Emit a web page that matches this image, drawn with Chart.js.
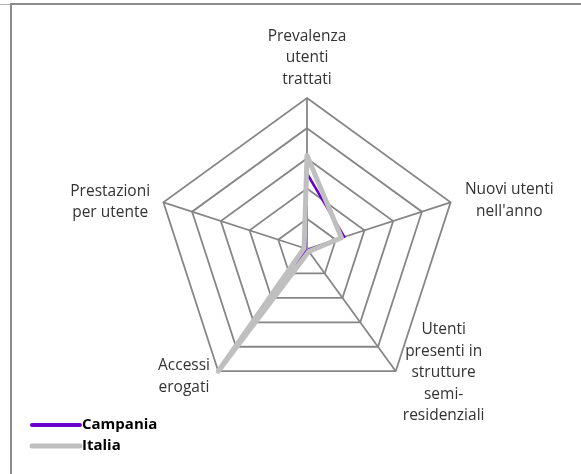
<!DOCTYPE html>
<html>
<head>
<meta charset="utf-8">
<script src="https://cdn.jsdelivr.net/npm/chart.js@4/dist/chart.umd.min.js"></script>
<style>
  body { margin: 0; background: #fff; }
  #wrap { position: relative; width: 581px; height: 474px; overflow: hidden; }
  #frame { position: absolute; left: 10px; top: 3px; width: 600px; height: 500px;
           border-left: 2px solid #8c8c8c; border-top: 2px solid #8c8c8c; }
  #stub { position: absolute; left: 0; top: 4px; width: 10px; height: 1px; background: #b0b0b0; }
  canvas { position: absolute; left: 0; top: 0; }
</style>
</head>
<body>
<div id="wrap">
  <div id="stub"></div>
  <div id="frame"></div>
  <canvas id="myChart" width="581" height="474"></canvas>
</div>
<script>
// axes, clockwise from the top
const categories = [
  ['Prevalenza', 'utenti', 'trattati'],
  ['Nuovi utenti', "nell'anno"],
  ['Utenti', 'presenti in', 'strutture', 'semi-', 'residenziali'],
  ['Accessi', 'erogati'],
  ['Prestazioni', 'per utente']
];
const campania = [2.5, 1.3, 0.05, 0.65, 0.05];
const italia = [3.1, 1.2, 0.1, 5.0, 0.1];
const seriesNames = ['Campania', 'Italia'];
const ringTicks = [0, 1, 2, 3, 4, 5];

// axis labels, centred blocks next to each corner
const cornerLabels = {
  id: 'cornerLabels',
  afterDraw(chart) {
    const ctx = chart.ctx;
    const scale = chart.scales.r;
    const lineH = 21.5;
    const pads = [10, 15, 12, 14, 14];
    const nudgeY = [2, 3, -8, -6, 4];
    ctx.save();
    ctx.font = '15.5px "Open Sans"';
    ctx.fillStyle = '#333333';
    ctx.textAlign = 'center';
    ctx.textBaseline = 'middle';
    chart.data.labels.forEach((lines, i) => {
      const p = scale.getPointPosition(i, scale.drawingArea + pads[i]);
      const w = Math.max(...lines.map(l => ctx.measureText(l).width));
      const h = lines.length * lineH;
      let cx = p.x;
      let top = p.y - h / 2 + nudgeY[i];
      if (i === 0) {
        top = p.y - h + nudgeY[i];
      } else if (p.x > scale.xCenter) {
        cx = p.x + w / 2;
      } else {
        cx = p.x - w / 2;
      }
      lines.forEach((l, k) => ctx.fillText(l, cx, top + lineH * (k + 0.5)));
    });
    ctx.restore();

    // legend, bottom left
    ctx.save();
    ctx.font = 'bold 15px "Open Sans"';
    ctx.textAlign = 'left';
    ctx.textBaseline = 'middle';
    ctx.lineCap = 'round';
    chart.data.datasets.slice().sort((a, b) => b.order - a.order).forEach((ds, k) => {
      const y = 425 + k * 21;
      ctx.strokeStyle = ds.borderColor;
      ctx.lineWidth = ds.legendWidth;
      ctx.beginPath();
      ctx.moveTo(32, y);
      ctx.lineTo(80, y);
      ctx.stroke();
      ctx.fillStyle = '#000';
      ctx.fillText(ds.label, 82, y);
    });
    ctx.restore();
  }
};

const ctx = document.getElementById('myChart').getContext('2d');
new Chart(ctx, {
  type: 'radar',
  data: {
    labels: categories,
    datasets: [{
      label: seriesNames[0],
      data: campania,
      borderColor: '#6600cc',
      borderWidth: 2.5,
      legendWidth: 4,
      fill: false,
      pointRadius: 0,
      borderJoinStyle: 'round',
      order: 1
    }, {
      label: seriesNames[1],
      data: italia,
      borderColor: '#bfbfbf',
      borderWidth: 5,
      legendWidth: 5,
      fill: false,
      pointRadius: 0,
      borderJoinStyle: 'round',
      order: 0
    }]
  },
  options: {
    responsive: false,
    animation: false,
    layout: { padding: { left: 156, right: 122, top: 98, bottom: 73 } },
    plugins: { legend: { display: false }, tooltip: { enabled: false } },
    scales: {
      r: {
        min: ringTicks[0],
        max: ringTicks[ringTicks.length - 1],
        ticks: { display: false, stepSize: 1 },
        pointLabels: { display: false },
        grid: { color: '#868686', lineWidth: 1.8 },
        angleLines: { color: '#868686', lineWidth: 1.8 }
      }
    }
  },
  plugins: [cornerLabels]
});
</script>
</body>
</html>
